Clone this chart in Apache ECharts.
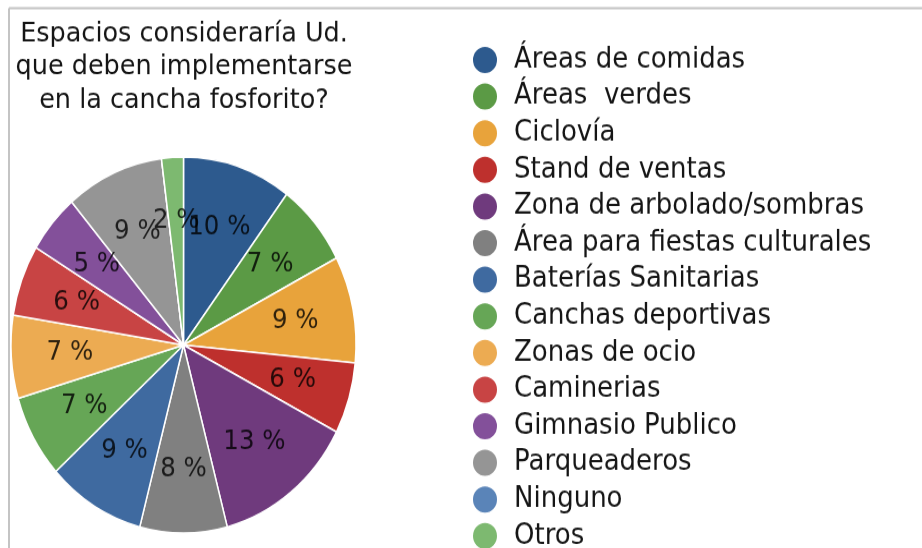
<!DOCTYPE html>
<html>
<head>
<meta charset="utf-8">
<script src="https://cdn.jsdelivr.net/npm/echarts@6/dist/echarts.min.js"></script>
<style>
  html, body { margin: 0; padding: 0; background: #fff; overflow: hidden; }
  #wrap { width: 922px; height: 548px; overflow: hidden; }
  /* the whole figure is drawn slightly taller than wide */
  #chart { width: 922px; height: 540px; transform: scaleY(1.09); transform-origin: 0 0; }
</style>
</head>
<body>
<div id="wrap"><div id="chart"></div></div>
<script>
// Survey answers: share of respondents (%) per proposed space
const categories = [
  'Áreas de comidas',
  'Áreas  verdes',
  'Ciclovía',
  'Stand de ventas',
  'Zona de arbolado/sombras',
  'Área para fiestas culturales',
  'Baterías Sanitarias',
  'Canchas deportivas',
  'Zonas de ocio',
  'Caminerias',
  'Gimnasio Publico',
  'Parqueaderos',
  'Ninguno',
  'Otros'
];
const percentages = [10, 7, 9, 6, 13, 8, 9, 7, 7, 6, 5, 9, 0, 2];
const sliceColors = [
  '#2d5a8e', '#5b9a45', '#e8a33b', '#be302d', '#6f3a7d', '#808080', '#3f6aa0',
  '#66a656', '#ecab52', '#c84444', '#83509a', '#959595', '#5a84b8', '#7db970'
];
const titleLines = [
  'Espacios consideraría Ud.',
  'que deben implementarse',
  'en la cancha fosforito?'
];

const FONT = '"DejaVu Sans", Verdana, sans-serif';
const pieCenter = [183.5, 316.5];
const pieRadius = 172.5;
const labelRadiusShare = 0.66; // labels sit at two thirds of the radius

const sliceData = categories.map((name, i) => ({
  name: name,
  value: percentages[i],
  itemStyle: { color: sliceColors[i] }
}));

// label anchors in polar terms: [radius share, middle of the slice along the angle axis]
const total = percentages.reduce((a, b) => a + b, 0);
const labelPoints = [];
let running = 0;
percentages.forEach((v, i) => {
  if (v > 0) labelPoints.push({ value: [labelRadiusShare, running + v / 2], pct: v });
  running += v;
});

const chart = echarts.init(document.getElementById('chart'), null, { renderer: 'canvas' });
chart.setOption({
  backgroundColor: '#ffffff',
  animation: false,
  title: {
    text: titleLines.join('\n'),
    left: 184,
    top: 16,
    padding: 0,
    textAlign: 'center',
    textStyle: {
      fontFamily: FONT,
      fontSize: 25.5,
      fontWeight: 'normal',
      color: '#151515',
      lineHeight: 30.5
    }
  },
  legend: {
    orient: 'vertical',
    left: 466,
    top: 36,
    icon: 'circle',
    itemWidth: 48,
    itemHeight: 26,
    itemGap: 5.6,
    data: categories,
    textStyle: { fontFamily: FONT, fontSize: 26, color: '#151515' }
  },
  polar: { center: pieCenter, radius: pieRadius },
  angleAxis: {
    type: 'value', min: 0, max: total, startAngle: 90, clockwise: true,
    show: false, splitLine: { show: false }
  },
  radiusAxis: { type: 'value', min: 0, max: 1, show: false, splitLine: { show: false } },
  graphic: [
    { type: 'line', shape: { x1: 9, y1: 7.5, x2: 922, y2: 7.5 }, style: { stroke: '#c4c4c4', lineWidth: 2 }, silent: true },
    { type: 'line', shape: { x1: 9, y1: 7.5, x2: 9, y2: 540 }, style: { stroke: '#c4c4c4', lineWidth: 2 }, silent: true }
  ],
  series: [
    {
      // filled slices
      type: 'pie',
      center: pieCenter,
      radius: [0, pieRadius],
      startAngle: 90,
      clockwise: true,
      data: sliceData,
      label: { show: false },
      labelLine: { show: false },
      itemStyle: { borderColor: '#ffffff', borderWidth: 1.5 }
    },
    {
      // percentage labels placed in the polar frame that overlays the pie
      type: 'scatter',
      coordinateSystem: 'polar',
      silent: true,
      symbolSize: 1,
      itemStyle: { color: 'rgba(0,0,0,0)' },
      data: labelPoints,
      z: 5,
      label: {
        show: true,
        position: 'inside',
        fontFamily: FONT,
        fontSize: 24.5,
        color: '#000000',
        formatter: p => p.data.pct + ' %'
      }
    }
  ]
});
</script>
</body>
</html>
